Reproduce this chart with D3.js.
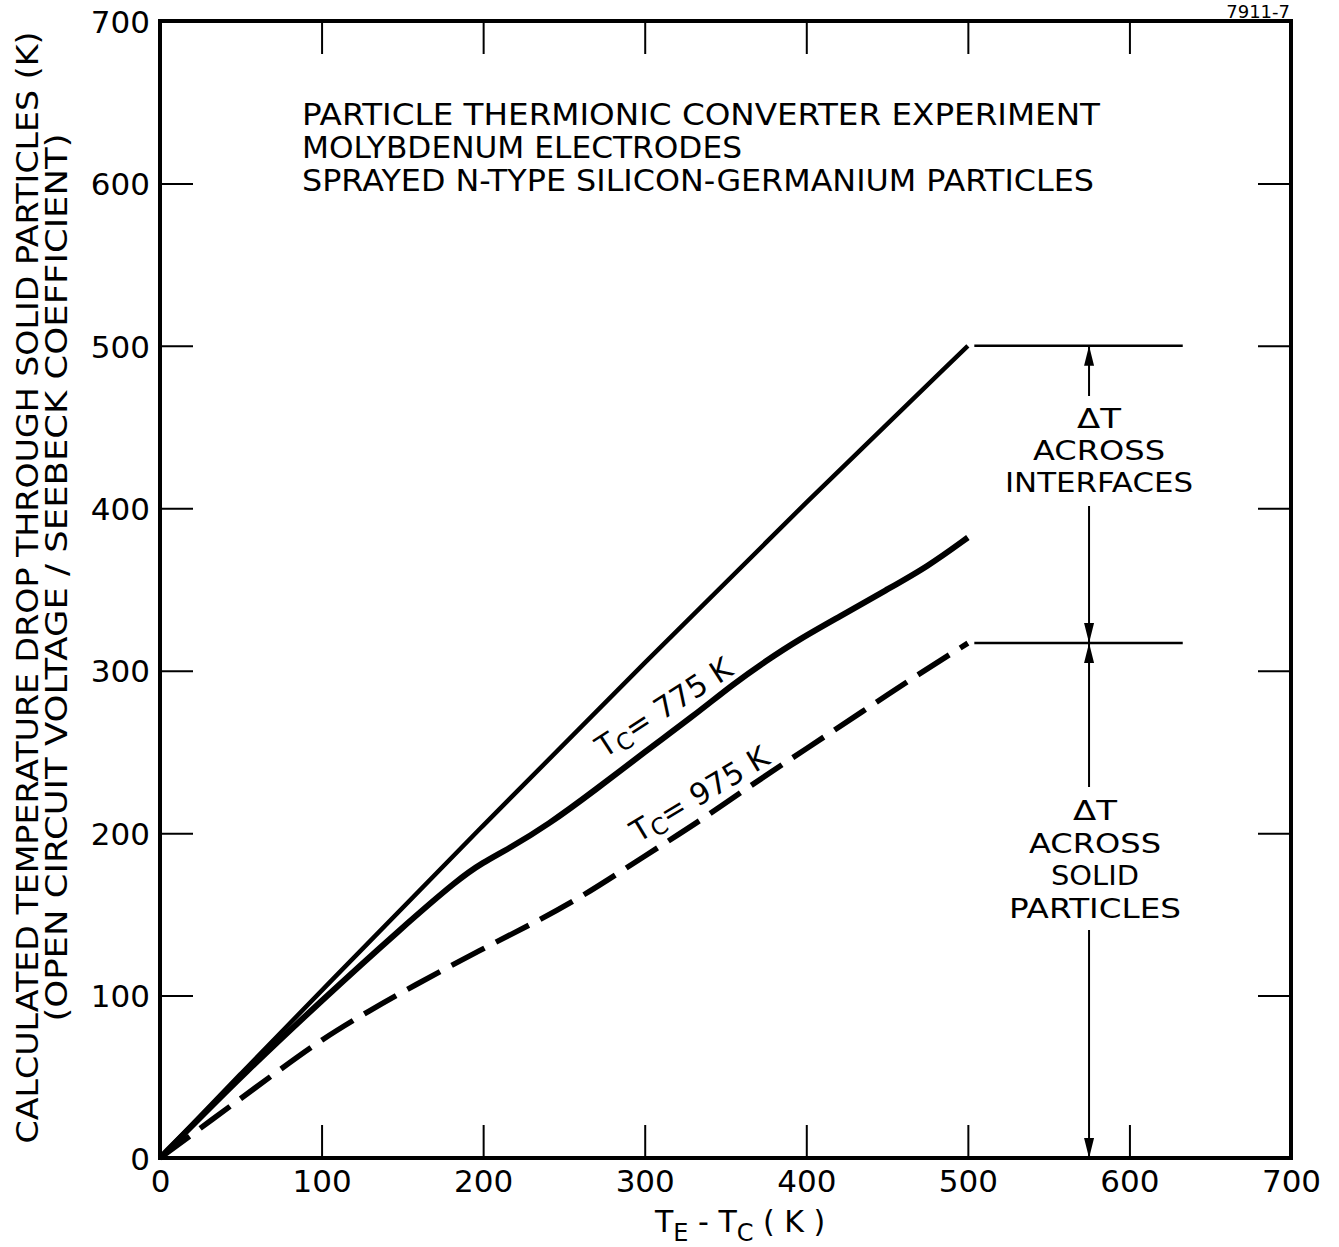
<!DOCTYPE html>
<html>
<head>
<meta charset="utf-8">
<script src="https://cdn.jsdelivr.net/npm/d3@7"></script>
<style>
  body { margin: 0; background: #fff; }
  text { font-family: "DejaVu Sans", sans-serif; fill: #000; }
</style>
</head>
<body>
<div id="wrapper"></div>
<script>
// values (x = TE - TC in K, y = calculated dT in K)
const xTicks = [0, 100, 200, 300, 400, 500, 600, 700];
const yTicks = [0, 100, 200, 300, 400, 500, 600, 700];

const upperX = [0, 50, 100, 200, 300, 400, 500];
const upperY = [0, 52, 103, 205, 305, 404, 500];

const tc775X = [0, 25, 50, 100, 150, 185, 200, 215, 240, 270, 300, 330, 355, 375, 395, 420, 450, 475, 500];
const tc775Y = [0, 25, 50, 97, 142, 172, 182, 190, 205, 227, 250, 272, 292, 306, 319, 333, 350, 364, 382];

const tc975X = [0, 30, 75, 100, 130, 155, 200, 230, 260, 300, 335, 365, 400, 435, 465, 500];
const tc975Y = [0, 22, 55, 73, 91, 105, 129, 144, 160, 186, 208, 229, 252, 275, 295, 317];

const titleLines = [
    "PARTICLE THERMIONIC CONVERTER EXPERIMENT",
    "MOLYBDENUM ELECTRODES",
    "SPRAYED N-TYPE SILICON-GERMANIUM PARTICLES"
];
const yTitle = [
    "CALCULATED TEMPERATURE DROP THROUGH SOLID PARTICLES (K)",
    "(OPEN CIRCUIT VOLTAGE / SEEBECK COEFFICIENT)"
];
const upperNote = ["\u0394T", "ACROSS", "INTERFACES"];
const lowerNote = ["\u0394T", "ACROSS", "SOLID", "PARTICLES"];
const noteX = 575;          // x of the dimension arrow
const noteSpan = [504, 633]; // extent of the horizontal reference lines
const noteLevels = [500, 317];

const width = 1339;
const height = 1247;
const margin = { top: 21, right: 48, bottom: 89, left: 160 };

const svg = d3.select('#wrapper')
    .append('svg')
    .attr('width', width)
    .attr('height', height);

const x = d3.scaleLinear().domain([0, 700]).range([margin.left, width - margin.right]);
const y = d3.scaleLinear().domain([0, 700]).range([height - margin.bottom, margin.top]);

// AXES ///////////////////////////////////////////
const tickLen = 33;

const xAxis = svg.append('g')
    .attr('transform', `translate(0,${y(0)})`)
    .call(d3.axisBottom(x).tickValues(xTicks).tickSizeInner(-tickLen).tickSizeOuter(0).tickPadding(12));
const xTop = svg.append('g')
    .attr('transform', `translate(0,${y(700)})`)
    .call(d3.axisTop(x).tickValues(xTicks.slice(1, -1)).tickSizeInner(-tickLen).tickSizeOuter(0).tickFormat(''));
const yAxis = svg.append('g')
    .attr('transform', `translate(${x(0)},0)`)
    .call(d3.axisLeft(y).tickValues(yTicks).tickSizeInner(-tickLen).tickSizeOuter(0).tickPadding(10));
const yRight = svg.append('g')
    .attr('transform', `translate(${x(700)},0)`)
    .call(d3.axisRight(y).tickValues(yTicks.slice(1, -1)).tickSizeInner(-tickLen).tickSizeOuter(0).tickFormat(''));

[xAxis, xTop, yAxis, yRight].forEach(g => {
    g.select('.domain').remove();
    g.selectAll('line').attr('stroke', '#000').attr('stroke-width', 2);
    g.selectAll('text').attr('font-size', 31).attr('font-family', '"DejaVu Sans", sans-serif').attr('fill', '#000');
});
// no tick marks in the corners
xAxis.selectAll('.tick').filter(d => d === 0 || d === 700).select('line').remove();
yAxis.selectAll('.tick').filter(d => d === 0 || d === 700).select('line').remove();
xAxis.selectAll('text').attr('dy', null).attr('y', 34);
yAxis.selectAll('text').attr('dy', '0.36em');

// frame
svg.append('rect')
    .attr('x', x(0)).attr('y', y(700))
    .attr('width', x(700) - x(0)).attr('height', y(0) - y(700))
    .attr('fill', 'none').attr('stroke', '#000').attr('stroke-width', 4);

// CURVES /////////////////////////////////////////
const line = d3.line()
    .x(d => x(d[0]))
    .y(d => y(d[1]))
    .curve(d3.curveBasis);

svg.append('path')
    .attr('d', line(d3.zip(upperX, upperY)))
    .attr('fill', 'none').attr('stroke', '#000').attr('stroke-width', 4.5);

svg.append('path')
    .attr('d', line(d3.zip(tc775X, tc775Y)))
    .attr('fill', 'none').attr('stroke', '#000').attr('stroke-width', 6);

svg.append('path')
    .attr('d', line(d3.zip(tc975X, tc975Y)))
    .attr('fill', 'none').attr('stroke', '#000').attr('stroke-width', 5.5)
    .attr('stroke-dasharray', '37,13');

// curve labels
function tcLabel(px, py, angle, value) {
    const t = svg.append('text')
        .attr('transform', `translate(${px},${py}) rotate(${angle})`)
        .attr('font-size', 30);
    t.append('tspan').text('T');
    t.append('tspan').attr('font-size', 23).attr('dy', 5).text('C');
    t.append('tspan').attr('dy', -5).text('= ' + value + ' K');
}
tcLabel(x(275), y(246), -33, 775);
tcLabel(x(296), y(194), -31, 975);

// TITLE //////////////////////////////////////////
svg.selectAll('.title')
    .data(titleLines)
    .enter()
    .append('text')
    .attr('class', 'title')
    .attr('x', 302)
    .attr('y', (d, i) => 125 + i * 33)
    .attr('font-size', 30)
    .attr('textLength', (d, i) => [798, 440, 792][i])
    .attr('lengthAdjust', 'spacingAndGlyphs')
    .text(d => d);

svg.append('text')
    .attr('x', 1290).attr('y', 18)
    .attr('text-anchor', 'end')
    .attr('font-size', 18)
    .text('7911-7');

// AXIS TITLES ////////////////////////////////////
svg.selectAll('.ytitle')
    .data(yTitle)
    .enter()
    .append('text')
    .attr('class', 'ytitle')
    .attr('transform', (d, i) => `translate(${[38, 67][i]},${(y(0) + y(700)) / 2 - [2, 12][i]}) rotate(-90)`)
    .attr('text-anchor', 'middle')
    .attr('font-size', 30)
    .attr('textLength', (d, i) => [1112, 888][i])
    .attr('lengthAdjust', 'spacingAndGlyphs')
    .text(d => d);

const xt = svg.append('text')
    .attr('x', 655).attr('y', 1232)
    .attr('font-size', 30);
xt.append('tspan').text('T');
xt.append('tspan').attr('font-size', 24).attr('dy', 9).text('E');
xt.append('tspan').attr('dy', -9).text(' - T');
xt.append('tspan').attr('font-size', 24).attr('dy', 9).text('C');
xt.append('tspan').attr('dy', -9).text(' ( K )');

// DIMENSION ANNOTATION ///////////////////////////
noteLevels.forEach(v => {
    svg.append('line')
        .attr('x1', x(noteSpan[0])).attr('x2', x(noteSpan[1]))
        .attr('y1', y(v)).attr('y2', y(v))
        .attr('stroke', '#000').attr('stroke-width', 2.5);
});

const ax = x(noteX);
const segments = [
    [y(noteLevels[0]), 396],
    [506, y(noteLevels[1])],
    [y(noteLevels[1]), 787],
    [930, y(0)]
];
segments.forEach(s => {
    svg.append('line')
        .attr('x1', ax).attr('x2', ax)
        .attr('y1', s[0]).attr('y2', s[1])
        .attr('stroke', '#000').attr('stroke-width', 2);
});

// arrow heads: tip position and direction (-1 up, +1 down)
const arrows = [[y(noteLevels[0]), -1], [y(noteLevels[1]), 1], [y(noteLevels[1]), -1], [y(0), 1]];
arrows.forEach(a => {
    const tip = a[0], dir = a[1];
    svg.append('path')
        .attr('d', `M${ax},${tip} L${ax - 5},${tip - dir * 20} L${ax + 5},${tip - dir * 20} Z`)
        .attr('fill', '#000');
});

svg.selectAll('.noteUp')
    .data(upperNote)
    .enter()
    .append('text')
    .attr('x', 1099)
    .attr('y', (d, i) => 428 + i * 32)
    .attr('text-anchor', 'middle')
    .attr('font-size', 27)
    .attr('textLength', (d, i) => [44, 132, 188][i])
    .attr('lengthAdjust', 'spacingAndGlyphs')
    .text(d => d);

svg.selectAll('.noteLow')
    .data(lowerNote)
    .enter()
    .append('text')
    .attr('x', 1095)
    .attr('y', (d, i) => 820 + i * 32.5)
    .attr('text-anchor', 'middle')
    .attr('font-size', 27)
    .attr('textLength', (d, i) => [44, 132, 88, 172][i])
    .attr('lengthAdjust', 'spacingAndGlyphs')
    .text(d => d);
</script>
</body>
</html>
